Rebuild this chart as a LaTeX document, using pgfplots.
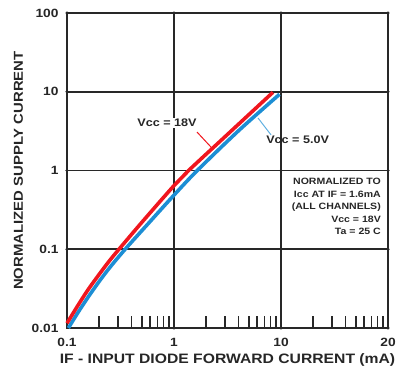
\documentclass[border=0pt]{standalone}
\usepackage{fontspec}
\setmainfont{Liberation Sans}[FakeStretch=1.15]
\usepackage{pgfplots}
\pgfplotsset{compat=1.18}
\definecolor{cred}{RGB}{240,22,30}
\definecolor{cblue}{RGB}{28,142,212}
\definecolor{gridc}{RGB}{40,40,40}
\begin{document}
\begin{tikzpicture}
\begin{axis}[
  scale only axis, width=321bp, height=315bp,
  xmode=log, ymode=log,
  xmin=0.1, xmax=100, ymin=0.01, ymax=100,
  xtick={0.1,1,10,100}, xticklabels={0.1,1,10,20},
  ytick={0.01,0.1,1,10,100}, yticklabels={0.01,0.1,1,10,100},
  minor xtick={0.2,0.3,0.4,0.5,0.6,0.7,0.8,0.9,2,3,4,5,6,7,8,9,20,30,40,50,60,70,80,90},
  yminorticks=false,
  xtick pos=left, ytick pos=left,
  tick align=inside,
  major tick length=0pt, minor tick length=12bp,
  minor tick style={line width=1.6bp, gridc},
  xmajorgrids, ymajorgrids,
  major grid style={line width=1.8bp, gridc},
  axis line style={line width=1.8bp, gridc},
  tick label style={font=\fontsize{12}{14}\selectfont\bfseries, text=black!85},
  xticklabel style={yshift=-7bp},
  yticklabel style={xshift=-5bp},
  /pgf/number format/assume math mode=true,
  xlabel={IF - INPUT DIODE FORWARD CURRENT (mA)},
  ylabel={NORMALIZED SUPPLY CURRENT},
  label style={font=\fontsize{13}{15}\selectfont\bfseries, text=black!85},
  xlabel style={yshift=0bp, font=\fontsize{13.7}{15}\selectfont\bfseries},
  ylabel style={yshift=2bp},
  clip=false,
]
\coordinate (bbsw) at (rel axis cs:0,0);
\coordinate (bbne) at (rel axis cs:1,1);
\addplot[only marks, mark=*, mark size=1.4bp, gridc] coordinates {
 (1,0.1) (1,1) (1,10) (1,100) (10,0.1) (10,1) (10,10) (10,100) (100,0.1) (100,1) (100,10) (100,100)
 (0.1,100) (0.1,10) (0.1,1) (0.1,0.1) (1,0.01) (10,0.01) (100,0.01)
};
\addplot[cblue, line width=3.6bp, smooth, tension=0.5] coordinates {
 (0.103,0.0100) (0.1295,0.0165) (0.163,0.0264) (0.205,0.0409) (0.258,0.0614) (0.354,0.102)
 (0.562,0.205) (1,0.487) (1.65,1.0) (4.06,3.25) (9.68,9.28)
};
\addplot[cred, line width=3.6bp, smooth, tension=0.5] coordinates {
 (0.100,0.0115) (0.126,0.0192) (0.158,0.0309) (0.2,0.0481) (0.25,0.0718) (0.306,0.1)
 (0.501,0.22) (1,0.643) (1.37,1.0) (3.16,2.87) (8.41,9.84)
};
\draw[cred, line width=1bp] (axis cs:1.64,3.08) -- (axis cs:2.26,1.93);
\draw[cblue!70, line width=1bp] (axis cs:6.1,4.64) -- (axis cs:8.07,2.83);
\node[font=\fontsize{11}{13}\selectfont\bfseries, text=black!85, fill=white, inner sep=1bp] at (axis cs:0.86,4.0) {Vcc = 18V};
\node[font=\fontsize{11}{13}\selectfont\bfseries, text=black!85, inner sep=1bp] at (axis cs:14.3,2.44) {Vcc = 5.0V};
\node[font=\fontsize{9.2}{12.5}\selectfont\bfseries, text=black!85, align=right, anchor=north east, inner sep=0pt] at (axis cs:86,0.8)
 {NORMALIZED TO\\Icc AT IF = 1.6mA\\(ALL CHANNELS)\\Vcc = 18V\\Ta = 25 C};
\end{axis}
\pgfresetboundingbox
\path ([shift={(-67bp,-52bp)}]bbsw) rectangle ([shift={(10bp,13bp)}]bbne);
\end{tikzpicture}
\end{document}
